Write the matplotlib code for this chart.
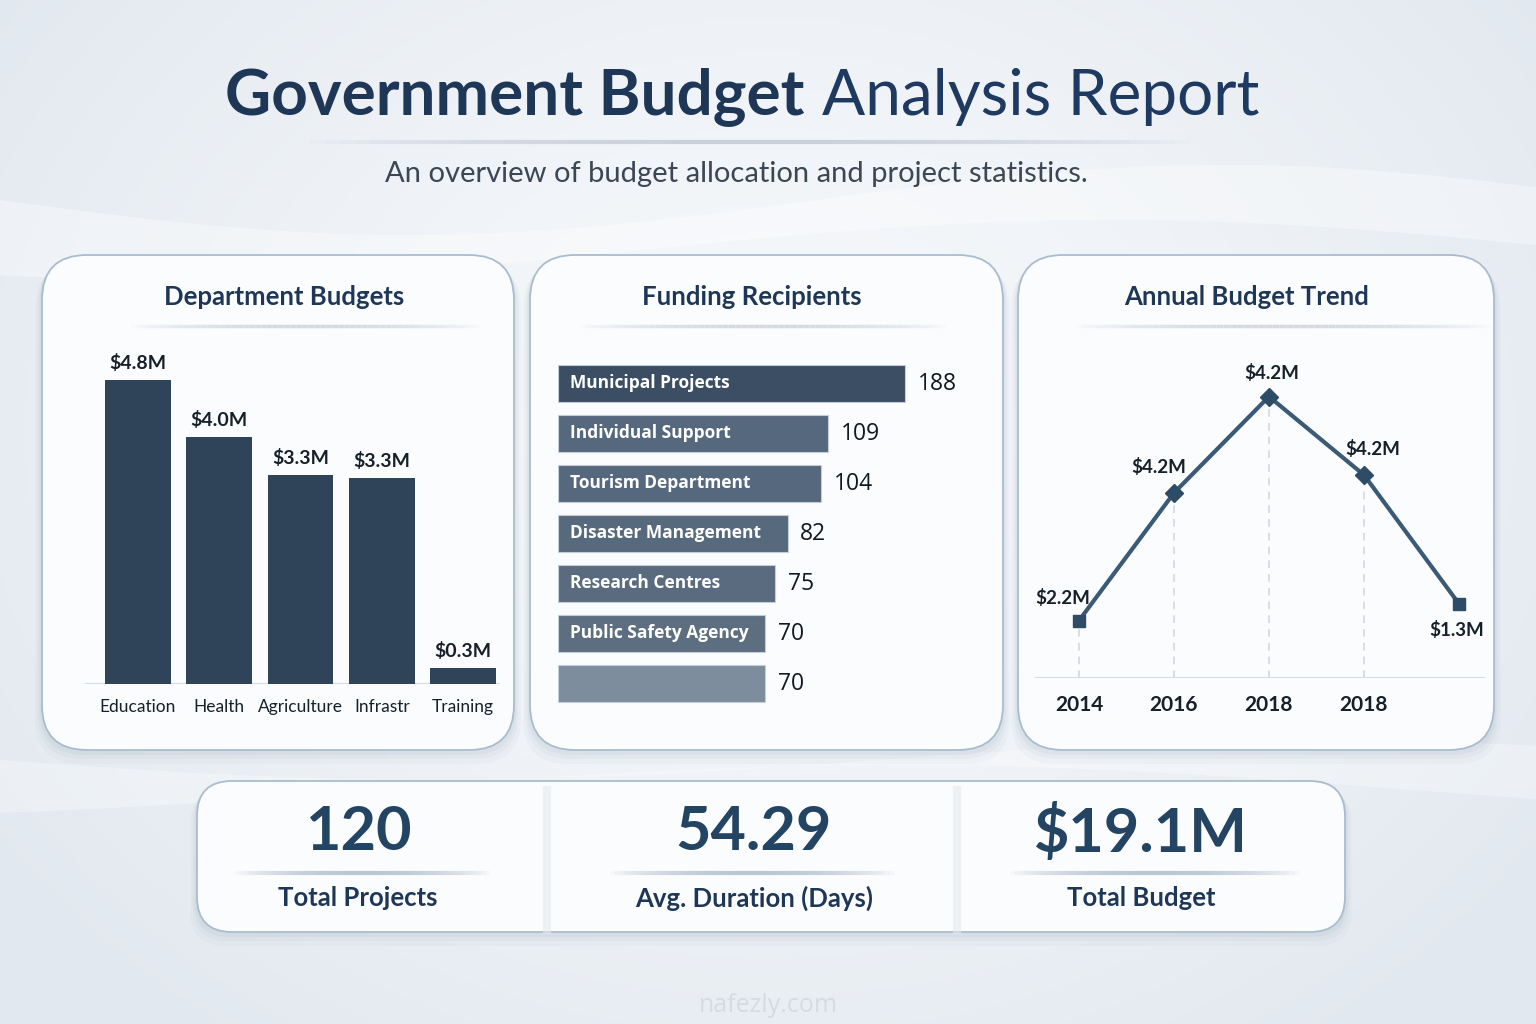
import matplotlib.pyplot as plt
import numpy as np
from matplotlib.patches import FancyBboxPatch
from matplotlib.transforms import blended_transform_factory

plt.rcParams['font.family'] = ['Open Sans', 'DejaVu Sans']
plt.rcParams['text.parse_math'] = False

W, H = 1536, 1024

# -------- data --------
dept_names = ["Education", "Health", "Agriculture", "Infrastr", "Training"]
dept_budget = [4.8, 3.9, 3.3, 3.25, 0.25]          # $M
dept_labels = ["$4.8M", "$4.0M", "$3.3M", "$3.3M", "$0.3M"]

recipients = ["Municipal Projects", "Individual Support", "Tourism Department",
              "Disaster Management", "Research Centres", "Public Safety Agency", ""]
recipient_counts = [188, 109, 104, 82, 75, 70, 70]

trend_years = ["2014", "2016", "2018", "2018"]
trend_values = [2.2, 3.34, 4.2, 3.5, 2.35]          # $M, read from point heights
trend_labels = ["$2.2M", "$4.2M", "$4.2M", "$4.2M", "$1.3M"]

kpi_values = ["120", "54.29", "$19.1M"]
kpi_names = ["Total Projects", "Avg. Duration (Days)", "Total Budget"]

NAVY = "#1f3757"
INK = "#161f2a"
LATO = ["Lato", "DejaVu Sans"]

fig = plt.figure(figsize=(W / 100, H / 100), dpi=100)

# -------- background --------
bg = fig.add_axes([0, 0, 1, 1])
bg.set_xlim(0, W)
bg.set_ylim(H, 0)
bg.axis("off")
yy, xx = np.mgrid[0:H:4, 0:W:4]
r = np.clip(np.sqrt(((xx - W / 2) / (W * 0.62)) ** 2 + ((yy - H * 0.42) / (H * 0.75)) ** 2), 0, 1)
c0 = np.array([0.965, 0.973, 0.984])
c1 = np.array([0.885, 0.910, 0.938])
img = c0 + (c1 - c0) * r[..., None] ** 1.5
bg.imshow(img, extent=[0, W, H, 0], aspect="auto", zorder=0)

# soft waves
wx = np.linspace(0, W, 300)
bg.fill_between(wx, 200 + 35 * np.sin(wx / 260), 250 + 30 * np.sin(wx / 300 + 1), color="white", alpha=0.35, lw=0, zorder=0.5)
bg.fill_between(wx, 760 + 20 * np.sin(wx / 280), 790 + 25 * np.sin(wx / 330 + 2), color="white", alpha=0.3, lw=0, zorder=0.5)


def fade_line(x0, x1, y, color="#c3ccd6", lw=2.5):
    xs = np.linspace(x0, x1, 60)
    for a, b in zip(xs[:-1], xs[1:]):
        t = ((a + b) / 2 - x0) / (x1 - x0)
        bg.plot([a, b], [y, y], color=color, lw=lw, alpha=np.sin(np.pi * t) ** 0.7,
                solid_capstyle="butt", zorder=3)


def card(x0, y0, x1, y1, rad=45):
    for k, a in [(14, 0.04), (9, 0.05), (5, 0.07)]:
        bg.add_patch(FancyBboxPatch((x0 - k / 2, y0 + k * 0.6), x1 - x0 + k, y1 - y0 + k * 0.4,
                                    boxstyle=f"round,pad=0,rounding_size={rad}",
                                    fc="#6f869e", ec="none", alpha=a, zorder=1))
    bg.add_patch(FancyBboxPatch((x0, y0), x1 - x0, y1 - y0,
                                boxstyle=f"round,pad=0,rounding_size={rad}",
                                fc="#fbfcfd", ec="#a9bccf", lw=1.3, zorder=2))


# -------- title --------
t1 = bg.text(0, 97, "Government Budget", fontsize=46, weight="bold", color=NAVY,
             family=LATO, va="center", ha="left", zorder=4)
t2 = bg.text(0, 97, "Analysis Report", fontsize=46, color="#1f3a60",
             family=LATO, va="center", ha="left", zorder=4)
rend = fig.canvas.get_renderer()
w1 = t1.get_window_extent(rend).width
w2 = t2.get_window_extent(rend).width
gap = 18
start = 742 - (w1 + gap + w2) / 2
t1.set_x(start)
t2.set_x(start + w1 + gap)
fade_line(310, 1190, 142, color="#c9d1da", lw=3)
bg.text(736, 174, "An overview of budget allocation and project statistics.", fontsize=21,
        color="#3b4755", ha="center", va="center", family=LATO, zorder=4)

# -------- cards --------
card(42, 255, 514, 750)
card(530, 255, 1003, 750)
card(1018, 255, 1494, 750)
card(197, 781, 1345, 932, rad=35)

for cx, x0, x1, title in [(284, 130, 480, "Department Budgets"),
                          (752, 580, 945, "Funding Recipients"),
                          (1247, 1075, 1490, "Annual Budget Trend")]:
    bg.text(cx, 297, title, fontsize=18.5, weight="bold", color=NAVY, family=LATO,
            ha="center", va="center", zorder=4)
    fade_line(x0, x1, 326, color="#d3dae2", lw=2.5)


def px_axes(x0, y0, x1, y1):
    ax = fig.add_axes([x0 / W, 1 - y1 / H, (x1 - x0) / W, (y1 - y0) / H])
    ax.patch.set_alpha(0)
    for s in ax.spines.values():
        s.set_visible(False)
    return ax


# -------- department budgets --------
ax1 = px_axes(85, 340, 500, 684)
x = np.arange(len(dept_names))
ax1.bar(x, dept_budget, width=0.81, color="#2f4359", zorder=2)
ax1.set_xlim(-0.652, 4.455)
ax1.set_ylim(0, 5.43)
ax1.set_yticks([])
ax1.set_xticks(x, dept_names, fontsize=12.5, color=INK, family=LATO)
ax1.tick_params(axis="x", length=0, pad=11)
ax1.axhline(0, color="#d3dbe4", lw=1.5, zorder=1)
for xi, v, lab in zip(x, dept_budget, dept_labels):
    ax1.annotate(lab, (xi, v), xytext=(0, 6), textcoords="offset points",
                 ha="center", va="bottom", fontsize=14, family=LATO, weight="bold", color=INK)

# -------- funding recipients --------
ax2 = px_axes(558, 350, 990, 715)
xmin = 16.2
y = np.arange(len(recipients))
bar_colors = ["#3b4e64", "#56687d", "#56687d", "#57697d", "#5a6b7f", "#5d6e81", "#7d8d9d"]
ax2.set_xscale("log")
ax2.barh(y, np.array(recipient_counts) - xmin, left=xmin, height=0.74, color=bar_colors,
         edgecolor="#c5ced8", lw=0.8)
ax2.set_xlim(xmin, 342)
ax2.set_ylim(6.64, -0.66)
ax2.set_xticks([])
ax2.set_xticks([], minor=True)
ax2.set_yticks([])
inside = blended_transform_factory(ax2.transAxes, ax2.transData)
for yi, name, cnt in zip(y, recipients, recipient_counts):
    ax2.text(0.028, yi, name, transform=inside, ha="left", va="center",
             fontsize=12.5, weight="bold", color="white")
    ax2.annotate(str(cnt), (cnt, yi), xytext=(9, -1), textcoords="offset points",
                 ha="left", va="center", fontsize=16.5, color="#111820")

# -------- annual trend --------
ax3 = px_axes(1035, 340, 1485, 678)
tx = np.arange(len(trend_values))
ylo = 1.6875
ax3.set_xlim(-0.463, 4.274)
ax3.set_ylim(ylo, 4.705)
ax3.vlines(tx[:4], ylo, trend_values[:4], colors="#cfd6dd", linestyles=(0, (5, 4)), lw=1.1, zorder=1)
ax3.axhline(ylo, color="#d3dbe4", lw=1.5, zorder=1)
ax3.plot(tx, trend_values, color="#3a5a76", lw=3, zorder=3)
for xi, v, m in zip(tx, trend_values, ["s", "D", "D", "D", "s"]):
    ax3.plot(xi, v, marker=m, ms=9 if m == "s" else 9.5, color="#2f4c66", zorder=4)
offsets = [(-12, 16), (-11, 19), (2, 17), (6, 19), (-2, -19)]
for xi, v, lab, off in zip(tx, trend_values, trend_labels, offsets):
    ax3.annotate(lab, (xi, v), xytext=off, textcoords="offset points",
                 ha="center", va="center", fontsize=13.5, family=LATO, weight="bold", color=INK)
ax3.set_yticks([])
ax3.set_xticks(tx[:4], trend_years, fontsize=15, color=INK, family=LATO, weight="bold")
ax3.tick_params(axis="x", length=0, pad=12)

# -------- KPI strip --------
for sx in (547, 957):
    bg.plot([sx, sx], [790, 930], color="#e6eaef", lw=6, alpha=0.6, zorder=3)
for cx, val, name, (l0, l1) in zip([358, 754, 1141], kpi_values, kpi_names,
                                   [(235, 490), (610, 895), (1010, 1300)]):
    bg.text(cx, 832, val, fontsize=44, weight="bold", color="#244463",
            family=LATO, ha="center", va="center", zorder=4)
    fade_line(l0, l1, 873, color="#bcc6d1", lw=3)
    bg.text(cx, 898, name, fontsize=18.5, weight="bold", color=NAVY, family=LATO,
            ha="center", va="center", zorder=4)

# watermark
bg.text(768, 1005, "nafezly.com", fontsize=18, color="#d5dbe2", ha="center", va="center", zorder=4)

fig.savefig("out.png", dpi=100)
